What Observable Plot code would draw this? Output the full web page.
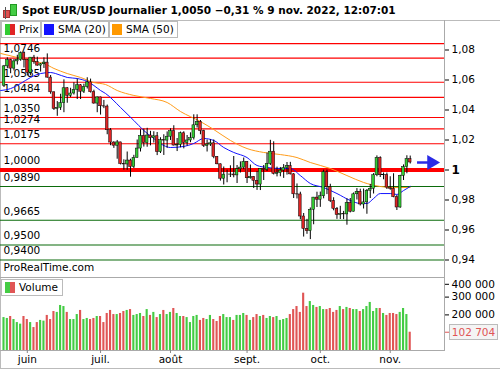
<!DOCTYPE html>
<html><head><meta charset="utf-8">
<script src="https://cdn.jsdelivr.net/npm/d3@7"></script>
<script src="https://cdn.jsdelivr.net/npm/@observablehq/plot@0.6"></script>
<style>
body{margin:0;background:#fff;}
#chart{position:relative;width:500px;height:370px;overflow:hidden;font-family:"DejaVu Sans",Verdana,sans-serif;color:#000;background:#fff;}
.abs{position:absolute;}
.title{left:22px;top:3px;font-weight:bold;font-size:10.5px;white-space:nowrap;line-height:14px;}
.lg{position:absolute;top:21px;height:15px;border:1px solid #bbb;font-size:10.5px;line-height:15px;white-space:nowrap;box-sizing:content-box;}
.sw{display:inline-block;width:10px;height:11px;vertical-align:top;margin:2px 4px 0 3px;}
.svgwrap{position:absolute;left:0;}
</style></head><body><div id="chart"></div><script>
// ---------- DATA ----------
const title = "Spot EUR/USD Journalier 1,0050 \u22120,31 % 9 nov. 2022, 12:07:01";
const legendNames = ["Prix", "SMA (20)", "SMA (50)"];
const firstDay = "2022-05-23", lastDay = "2022-11-09";
const open = [1.0562,1.0691,1.0733,1.0676,1.0724,1.0734,1.0779,1.0733,1.0648,1.0749,1.0719,1.0696,1.0705,1.0716,1.0616,1.0518,1.0407,1.0415,1.0446,1.0545,1.0495,1.0510,1.0535,1.0565,1.0522,1.0553,1.0584,1.0519,1.0443,1.0484,1.0425,1.0423,1.0265,1.0183,1.0162,1.0184,1.0040,1.0037,1.0063,1.0020,1.0081,1.0143,1.0227,1.0179,1.0230,1.0212,1.0225,1.0120,1.0199,1.0196,1.0222,1.0259,1.0163,1.0168,1.0245,1.0180,1.0197,1.0212,1.0298,1.0320,1.0259,1.0160,1.0170,1.0178,1.0087,1.0038,0.9942,0.9969,0.9969,0.9970,0.9964,1.0005,1.0016,1.0054,0.9945,0.9954,0.9928,0.9903,1.0007,1.0000,1.0041,1.0122,0.9974,0.9979,0.9996,1.0013,1.0026,0.9971,0.9838,0.9837,0.9690,0.9607,0.9592,0.9735,0.9816,0.9802,0.9825,0.9985,0.9885,0.9794,0.9741,0.9700,0.9706,0.9704,0.9780,0.9722,0.9838,0.9855,0.9770,0.9784,0.9862,0.9875,0.9965,1.0080,0.9965,0.9966,0.9883,0.9875,0.9819,0.9750,0.9961,1.0020,1.0072];
const high = [1.0697,1.0748,1.0738,1.0737,1.0765,1.0787,1.0787,1.0737,1.0750,1.0764,1.0752,1.0710,1.0748,1.0774,1.0630,1.0520,1.0456,1.0505,1.0601,1.0549,1.0545,1.0582,1.0606,1.0570,1.0572,1.0615,1.0606,1.0532,1.0487,1.0486,1.0464,1.0433,1.0276,1.0189,1.0197,1.0185,1.0068,1.0120,1.0072,1.0098,1.0200,1.0269,1.0273,1.0278,1.0258,1.0255,1.0250,1.0215,1.0235,1.0254,1.0275,1.0295,1.0210,1.0253,1.0255,1.0230,1.0248,1.0368,1.0368,1.0330,1.0265,1.0200,1.0202,1.0200,1.0090,1.0040,1.0020,0.9999,1.0028,1.0090,1.0030,1.0054,1.0080,1.0055,1.0033,0.9955,0.9990,1.0010,1.0030,1.0113,1.0198,1.0188,1.0019,1.0017,1.0036,1.0050,1.0051,0.9976,0.9907,0.9852,0.9710,0.9671,0.9747,0.9817,0.9852,0.9853,0.9999,0.9999,0.9905,0.9815,0.9750,0.9758,0.9724,0.9808,0.9810,0.9847,0.9876,0.9872,0.9873,0.9870,0.9904,0.9976,1.0094,1.0088,0.9980,0.9980,0.9955,0.9975,0.9830,0.9965,1.0034,1.0095,1.0093];
const low = [1.0550,1.0675,1.0642,1.0660,1.0700,1.0725,1.0680,1.0627,1.0628,1.0705,1.0692,1.0653,1.0677,1.0612,1.0505,1.0397,1.0358,1.0397,1.0382,1.0445,1.0483,1.0500,1.0470,1.0470,1.0510,1.0540,1.0513,1.0438,1.0382,1.0366,1.0409,1.0235,1.0162,1.0144,1.0072,1.0034,0.9999,0.9998,0.9952,1.0010,1.0080,1.0120,1.0153,1.0152,1.0161,1.0180,1.0096,1.0110,1.0097,1.0145,1.0197,1.0160,1.0123,1.0148,1.0141,1.0160,1.0182,1.0200,1.0280,1.0235,1.0150,1.0120,1.0157,1.0075,1.0035,0.9926,0.9900,0.9915,0.9950,0.9948,0.9910,0.9980,1.0002,0.9910,0.9939,0.9877,0.9864,0.9863,0.9930,0.9990,1.0030,0.9967,0.9954,0.9955,0.9944,0.9966,0.9967,0.9810,0.9807,0.9668,0.9553,0.9571,0.9536,0.9635,0.9750,0.9751,0.9808,0.9836,0.9783,0.9728,0.9671,0.9670,0.9669,0.9632,0.9714,0.9720,0.9800,0.9760,0.9740,0.9705,0.9810,0.9840,0.9955,0.9950,0.9935,0.9870,0.9865,0.9815,0.9730,0.9745,0.9930,0.9975,1.0040];
const close = [1.0691,1.0733,1.0676,1.0724,1.0734,1.0779,1.0733,1.0648,1.0749,1.0719,1.0696,1.0705,1.0716,1.0616,1.0518,1.0407,1.0415,1.0446,1.0545,1.0495,1.0510,1.0535,1.0565,1.0522,1.0553,1.0584,1.0519,1.0443,1.0484,1.0425,1.0423,1.0265,1.0183,1.0162,1.0184,1.0040,1.0037,1.0063,1.0020,1.0081,1.0143,1.0227,1.0179,1.0230,1.0212,1.0225,1.0120,1.0199,1.0196,1.0222,1.0259,1.0163,1.0168,1.0245,1.0180,1.0197,1.0212,1.0298,1.0320,1.0259,1.0160,1.0170,1.0178,1.0087,1.0038,0.9942,0.9969,0.9969,0.9970,0.9964,1.0005,1.0016,1.0054,0.9945,0.9954,0.9928,0.9903,1.0007,1.0000,1.0041,1.0122,0.9974,0.9979,0.9996,1.0013,1.0026,0.9971,0.9838,0.9837,0.9690,0.9607,0.9592,0.9735,0.9816,0.9802,0.9825,0.9985,0.9885,0.9794,0.9741,0.9700,0.9706,0.9704,0.9780,0.9722,0.9838,0.9855,0.9770,0.9784,0.9862,0.9875,0.9965,1.0080,0.9965,0.9966,0.9883,0.9875,0.9819,0.9750,0.9961,1.0020,1.0072,1.0050];
const volume = [185000,180000,191000,174000,157000,148000,191000,174000,157000,129000,157000,169000,165000,197000,174000,219000,214000,253000,247000,214000,174000,174000,202000,225000,174000,180000,174000,180000,191000,191000,157000,208000,225000,202000,202000,208000,219000,225000,230000,197000,202000,208000,191000,230000,197000,214000,185000,202000,225000,202000,214000,236000,208000,191000,191000,185000,157000,191000,197000,169000,180000,174000,197000,174000,163000,191000,202000,185000,185000,169000,197000,197000,208000,197000,169000,185000,202000,191000,197000,180000,191000,185000,191000,169000,174000,180000,202000,230000,247000,214000,322000,247000,275000,253000,242000,247000,230000,230000,236000,214000,225000,247000,230000,242000,236000,230000,230000,219000,230000,247000,270000,219000,236000,236000,208000,197000,208000,208000,202000,214000,236000,202000,102704];
// moving averages (trading-day index, value)
const sma20Idx = [-1,2,5,8,11,14,15.5,19,22,25,27,29,30.5,35,39,42,45,48,50,54,57,60,63,66,69,73,76,79,83,86,89,92,96,100,104,107,109,111,113,116,118,120,122];
const sma20 = [1.0530,1.0543,1.0577,1.0617,1.0643,1.0650,1.0643,1.0617,1.0610,1.0590,1.0563,1.0530,1.0510,1.0417,1.0330,1.0263,1.0210,1.0163,1.0150,1.0157,1.0177,1.0210,1.0197,1.0150,1.0117,1.0083,1.0030,1.0017,1.0010,1.0010,0.9963,0.9910,0.9883,0.9843,0.9797,0.9777,0.9777,0.9810,0.9843,0.9843,0.9837,0.9863,0.9890];
const sma50Idx = [-1,4,9,12,15,19,23,27,30.5,34,39,44,49,53,59,63,68,73,78,83,88,92,98,103,108,113,117,122];
const sma50 = [1.0777,1.0750,1.0723,1.0710,1.0677,1.0643,1.0617,1.0583,1.0570,1.0530,1.0497,1.0477,1.0450,1.0390,1.0323,1.0270,1.0197,1.0143,1.0117,1.0103,1.0083,1.0050,1.0010,0.9963,0.9917,0.9890,0.9883,0.9883];
const levels = [1.0746,1.0585,1.0484,1.0350,1.0274,1.0175,1.0000,0.9890,0.9665,0.9500,0.9400];
const extraLevels = [1.0843];
const priceTicks = [0.94,0.96,0.98,1.02,1.04,1.06,1.08];
const volumeTicks = [200000,300000];
const volumeTopTick = [400000];
const monthLabels = ["juin","juil.","ao\u00fbt","sept.","oct.","nov."];
const watermark = "ProRealTime.com";

// ---------- COLORS ----------
const GREEN = "#33cc33", RED = "#e02424", VGREEN = "#44cc44", VRED = "#e05555";
const LRED = "#ff0000", LGREEN = "#0b6b0b", BLUE = "#1414ff", ORANGE = "#ff9c1a", ARROW = "#2a2ae6";

// ---------- BUILD ----------
const days = d3.utcDay.range(new Date(firstDay), d3.utcDay.offset(new Date(lastDay), 1))
  .filter(d => d.getUTCDay() !== 0 && d.getUTCDay() !== 6);
const candles = days.map((date, i) => ({i, date, open: open[i], high: high[i], low: low[i], close: close[i], volume: volume[i]}));
const monthStarts = candles.filter((d, k) => k > 0 && d.date.getUTCMonth() !== candles[k-1].date.getUTCMonth());
const monthLabelAt = new Map(monthStarts.map((d, k) => [d.i, monthLabels[k]]));
const sma20Pts = sma20Idx.map((x, k) => ({x, v: sma20[k]}));
const sma50Pts = sma50Idx.map((x, k) => ({x, v: sma50[k]}));
const last = candles[candles.length - 1];
const up = d => d.close >= d.open;
const fmtPrice = d => d === 1 ? "1" : d3.format(".2f")(d).replace(".", ",");
const fmtLevel = d => d3.format(".4f")(d).replace(".", ",");
const fmtVol = d => d3.format(",")(d).replace(/,/g, "\u00a0");
const xDomain = [-1.05, 132.3];

const chart = document.getElementById("chart");
const style = {fontFamily: "'DejaVu Sans', Verdana, sans-serif", fontSize: "10.5px", background: "transparent", overflow: "visible"};

const pricePlot = Plot.plot({
  width: 500, height: 240, marginTop: 0, marginBottom: 0, marginLeft: 0, marginRight: 56,
  style,
  x: {domain: xDomain, axis: null},
  y: {domain: [0.92767, 1.08767], axis: null},
  marks: [
    Plot.ruleY(levels.concat(extraLevels).filter(v => v !== 1), {stroke: d => d > 1 ? LRED : LGREEN, strokeWidth: 1.2}),
    Plot.ruleY([1], {stroke: LRED, strokeWidth: 4}),
    Plot.text(levels, {y: d => d, text: fmtLevel, frameAnchor: "left", textAnchor: "start", dx: 3, dy: -9, fill: "#000"}),
    Plot.text([watermark], {frameAnchor: "bottom-left", textAnchor: "start", dx: 3, dy: -8, fill: "#000"}),
    Plot.line(sma50Pts, {x: "x", y: "v", stroke: ORANGE, strokeWidth: 1, curve: "monotone-x"}),
    Plot.line(sma20Pts, {x: "x", y: "v", stroke: BLUE, strokeWidth: 1, curve: "monotone-x"}),
    Plot.ruleX(candles, {x: "i", y1: "low", y2: "high", stroke: "#000", strokeWidth: 1}),
    Plot.rectY(candles, {x1: d => d.i - 0.4, x2: d => d.i + 0.4, y1: "open", y2: "close", fill: d => up(d) ? GREEN : RED, stroke: "#000", strokeWidth: 0.5}),
    Plot.ruleY([last], {y: "close", x1: d => d.i + 2.2, x2: d => d.i + 5.6, stroke: ARROW, strokeWidth: 2.5}),
    Plot.dot([last], {x: d => d.i + 6.4, y: "close", symbol: "triangle", r: 5.5, rotate: 90, fill: ARROW, stroke: "none"}),
    Plot.axisY(priceTicks, {anchor: "right", tickSize: 4, tickPadding: 3, tickFormat: fmtPrice, label: null}),
    Plot.axisY([1], {anchor: "right", tickSize: 4, tickPadding: 3, tickFormat: fmtPrice, label: null, fontWeight: "bold", fontSize: 12})
  ]
});

const volPlot = Plot.plot({
  width: 500, height: 92, marginTop: 0, marginBottom: 20, marginLeft: 0, marginRight: 56,
  style,
  x: {domain: xDomain},
  y: {domain: [0, 404500], axis: null},
  marks: [
    Plot.rectY(candles, {x1: d => d.i - 0.32, x2: d => d.i + 0.32, y1: 0, y2: "volume", fill: d => up(d) ? VGREEN : VRED}),
    Plot.ruleY([0], {stroke: "#aaa"}),
    Plot.axisX(monthStarts.map(d => d.i), {tickSize: 3, tickPadding: 2, tickFormat: d => monthLabelAt.get(d), label: null, stroke: "#888"}),
    Plot.axisY(volumeTicks, {anchor: "right", tickSize: 4, tickPadding: 3, tickFormat: fmtVol, label: null}),
    Plot.axisY(volumeTopTick, {anchor: "right", tickSize: 4, tickPadding: 3, tickFormat: fmtVol, label: null, dy: 5}),
    Plot.axisY([last.volume], {anchor: "right", tickSize: 4, tickFormat: () => "", label: null, stroke: VRED})
  ]
});

function add(html, cls, css) {
  const el = document.createElement("div");
  el.className = cls || "abs";
  if (css) el.style.cssText = css;
  el.innerHTML = html;
  chart.appendChild(el);
  return el;
}
// frame lines
add("", "abs", "left:0;top:20px;width:500px;height:1px;background:#bbb");
add("", "abs", "left:0;top:20px;width:1px;height:349px;background:#bbb");
add("", "abs", "left:0;top:368px;width:500px;height:1px;background:#bbb");
add("", "abs", "left:444px;top:20px;width:1px;height:331px;background:#aaa");
add("", "abs", "left:0;top:277px;width:444px;height:1px;background:#aaa");

// plots
const pw = add("", "svgwrap", "top:38px");
pw.appendChild(pricePlot);
const vw = add("", "svgwrap", "top:278px");
vw.appendChild(volPlot);

// title with icon
add('<span style="position:absolute;left:2px;top:10px;width:5px;height:6px;background:#e05050;border:1px solid #a33"></span>' +
    '<span style="position:absolute;left:4px;top:7px;width:1px;height:12px;background:#555"></span>' +
    '<span style="position:absolute;left:9px;top:4px;width:5px;height:10px;background:#44cc44;border:1px solid #292"></span>' +
    '<span style="position:absolute;left:11px;top:1px;width:1px;height:17px;background:#555;z-index:-1"></span>', "abs", "left:1px;top:0;width:18px;height:19px");
add(title, "abs title");

// legend
const legendSw = [
  `<span class="sw" style="background:linear-gradient(90deg,${GREEN} 50%,${RED} 50%)"></span>`,
  `<span class="sw" style="background:${BLUE}"></span>`,
  `<span class="sw" style="background:#ff9900"></span>`
];
const lgPos = [[1, 39], [40, 68], [108, 68]];
legendNames.forEach((n, k) => add(legendSw[k] + n, "lg", `left:${lgPos[k][0]}px;width:${lgPos[k][1]}px`));
add(`<span class="sw" style="background:linear-gradient(90deg,${VGREEN} 50%,${VRED} 50%)"></span>Volume`, "lg", "top:279px;left:1px;width:60px;background:#fff");

// last volume box
const vy = volPlot.scale("y").apply(last.volume);
add(fmtVol(last.volume), "abs", `left:449px;top:${278 + vy - 8}px;width:47px;height:14px;border:1px solid #bbb;background:#f4f4f4;color:${VRED};font-size:10.5px;line-height:14px;text-align:center`);
</script></body></html>
